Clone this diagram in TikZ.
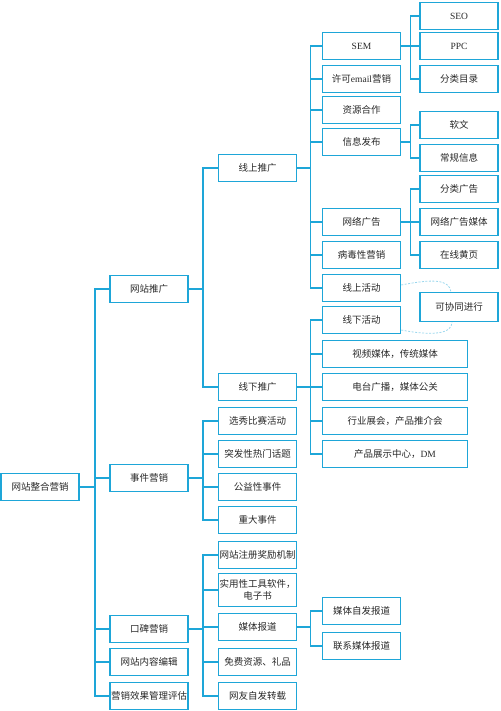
\documentclass[tikz,border=0pt]{standalone}
\usepackage{fontspec}
\newfontfamily\cjk{Noto Sans CJK SC}
\newfontfamily\lat{Liberation Serif}
\definecolor{lineblue}{RGB}{30,166,216}
\definecolor{txtgray}{RGB}{40,40,40}
\begin{document}
\begin{tikzpicture}[x=1pt,y=-1pt,
    box/.style={draw=lineblue,line width=1.5pt,minimum width=78pt,minimum height=27pt,inner sep=1pt,align=center,text=txtgray,font=\cjk\fontsize{9.5}{12}\selectfont},
    wide/.style={box,minimum width=145pt},
    link/.style={draw=lineblue,line width=1.5pt},
    together/.style={draw=lineblue!45,line width=0.8pt,dash pattern=on 2pt off 1.5pt}]
    \useasboundingbox (0,0) rectangle (500,711);
    \node[box] (root) at (40,487) {网站整合营销};
    \foreach \n/\y/\lbl in {tuiguang/289/网站推广,shijian/478/事件营销,koubei/629/口碑营销,neirong/662/网站内容编辑,pinggu/696/营销效果管理评估}
    {
        \node[box] (\n) at (149,\y) {\lbl};
        \draw[link] (root.east) -- ++(15,0) |- (\n.west);
    }
    \foreach \n/\y/\lbl in {online/168/线上推广,offline/387/线下推广}
    {
        \node[box] (\n) at (257.5,\y) {\lbl};
        \draw[link] (tuiguang.east) -- ++(14,0) |- (\n.west);
    }
    \foreach \n/\y/\lbl in {xuanxiu/421/选秀比赛活动,tufa/454/突发性热门话题,gongyi/487/公益性事件,zhongda/520/重大事件}
    {
        \node[box] (\n) at (257.5,\y) {\lbl};
        \draw[link] (shijian.east) -- ++(14,0) |- (\n.west);
    }
    \node[box,minimum height=33pt] (gongju) at (257.5,590) {实用性工具软件，\\电子书};
    \draw[link] (koubei.east) -- ++(14,0) |- (gongju.west);
    \foreach \n/\y/\lbl in {zhuce/555/网站注册奖励机制,meiti/627/媒体报道,mianfei/662/免费资源、礼品,wangyou/696/网友自发转载}
    {
        \node[box] (\n) at (257.5,\y) {\lbl};
        \draw[link] (koubei.east) -- ++(14,0) |- (\n.west);
    }
    \foreach \n/\y/\lbl in {zifa/611/媒体自发报道,lianxi/646/联系媒体报道}
    {
        \node[box] (\n) at (361.5,\y) {\lbl};
        \draw[link] (meiti.east) -- ++(13,0) |- (\n.west);
    }
    \foreach \n/\y/\lbl in {sem/46/{\lat SEM},email/79/许可{\lat email}营销,ziyuan/110/资源合作,xinxi/142/信息发布,wlgg/222/网络广告,bingdu/255/病毒性营销,xshd/288/线上活动}
    {
        \node[box] (\n) at (361.5,\y) {\lbl};
        \draw[link] (online.east) -- ++(13,0) |- (\n.west);
    }
    \node[box] (xxhd) at (361.5,320) {线下活动};
    \draw[link] (offline.east) -- ++(13,0) |- (xxhd.west);
    \foreach \n/\y/\lbl in {shipin/354/视频媒体，传统媒体,diantai/387/电台广播，媒体公关,hangye/421/行业展会，产品推介会,chanpin/454/产品展示中心，{\lat DM}}
    {
        \node[wide] (\n) at (395,\y) {\lbl};
        \draw[link] (offline.east) -- ++(13,0) |- (\n.west);
    }
    \foreach \n/\y/\lbl in {seo/16/{\lat SEO},ppc/46/{\lat PPC},mulu/79/分类目录}
    {
        \node[box] (\n) at (459,\y) {\lbl};
        \draw[link] (sem.east) -- ++(9,0) |- (\n.west);
    }
    \foreach \n/\y/\lbl in {ruanwen/125/软文,changgui/158/常规信息}
    {
        \node[box] (\n) at (459,\y) {\lbl};
        \draw[link] (xinxi.east) -- ++(9,0) |- (\n.west);
    }
    \foreach \n/\y/\lbl in {fenlei/189/分类广告,wlggmt/222/网络广告媒体,huangye/255/在线黄页}
    {
        \node[box] (\n) at (459,\y) {\lbl};
        \draw[link] (wlgg.east) -- ++(9,0) |- (\n.west);
    }
    \node[box,minimum height=29pt] (xietong) at (459,307) {可协同进行};
    \draw[together] ([yshift=3pt]xshd.east) .. controls (432,279) and (449,279) .. ([xshift=-8pt]xietong.north);
    \draw[together] ([yshift=-10pt]xxhd.east) .. controls (432,336) and (452,334) .. ([xshift=-7pt]xietong.south);
\end{tikzpicture}
\end{document}
